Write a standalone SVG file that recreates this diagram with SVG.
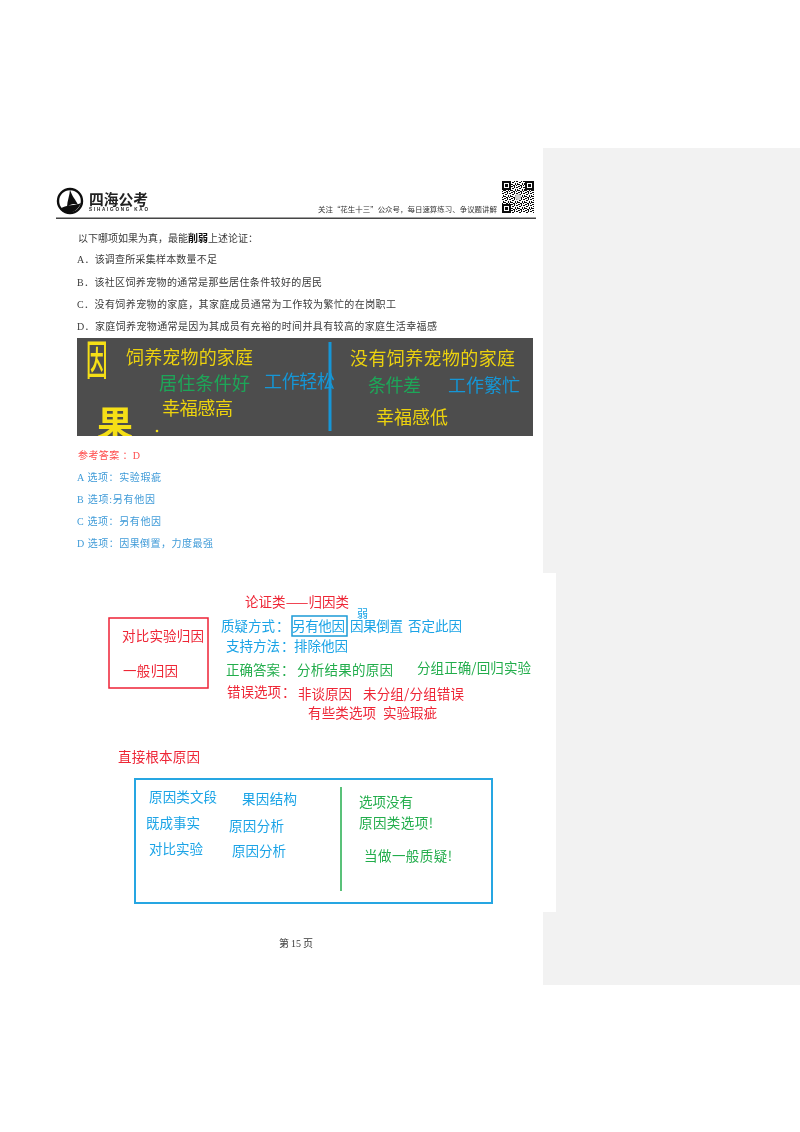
<svg xmlns="http://www.w3.org/2000/svg" width="800" height="1132" viewBox="0 0 800 1132">
<style>
text{font-family:"Noto Sans CJK SC","Liberation Sans",sans-serif}
.doc text{font-family:"Liberation Serif","Noto Sans CJK SC",serif;font-size:10px;fill:#3a3a3a}
.doc text.a{fill:#ff4d4d}
.doc text.b{fill:#3f9bd8}
.hw text{font-size:13.500px}
.hw text.s{font-size:11px}
.y{fill:#ecd20f;font-size:18px}
.g{fill:#1fa659;font-size:18px}
.c{fill:#1596d6;font-size:18px}
.r{fill:#ee2536}
.u{fill:#1aa3e6}
.n{fill:#22ad4c}
</style>
<defs>
<filter id="soft" x="-5%" y="-5%" width="110%" height="110%"><feGaussianBlur stdDeviation="0.3"/></filter>
<filter id="qrsoft" x="-5%" y="-5%" width="110%" height="110%"><feGaussianBlur stdDeviation="0.5"/></filter>
<clipPath id="photo"><rect x="77" y="338" width="456" height="98"/></clipPath>
<pattern id="qr" width="7" height="6" patternUnits="userSpaceOnUse"><path d="M0 0h2v1H0zM3 0h1v2H3zM5 1h2v1H5zM1 2h2v1H1zM4 3h1v2H4zM0 4h2v1H0zM6 3h1v2H6zM2 5h2v1H2zM5 5h1v1H5z" fill="#111"/></pattern>
</defs>
<rect width="800" height="1132" fill="#fff"/>
<rect x="543" y="148" width="257" height="837" fill="#f2f2f2"/>
<rect x="77" y="573" width="479" height="339" fill="#fff"/>

<g id="header" filter="url(#soft)">
<g id="logo">
<circle cx="70" cy="201" r="12" fill="#fff" stroke="#111" stroke-width="2.400"/>
<path d="M70 189C71 195 76 200 78 205C74 203 71 204 67 207C67 201 70 195 70 189Z" fill="#111"/>
<path d="M60 209C66 204 75 206 81 203C78 210 72 214 66 213C64 212 62 211 60 209Z" fill="#111"/>
</g>
<text x="89" y="205" font-size="15" font-weight="700" fill="#222" textLength="59" lengthAdjust="spacingAndGlyphs">四海公考</text>
<text x="89" y="211" font-size="4.600" font-weight="700" fill="#222" textLength="59" style="font-family:'Liberation Sans',sans-serif">SIHAIGONG KAO</text>
<text x="318" y="212" font-size="7.400" fill="#333" textLength="179" lengthAdjust="spacingAndGlyphs">关注“花生十三”公众号，每日速算练习、争议题讲解</text>
<g id="qrcode" filter="url(#qrsoft)">
<rect x="502" y="181" width="32" height="32" fill="url(#qr)"/>
<path d="M502 181h9v9h-9zM525 181h9v9h-9zM502 204h9v9h-9z" fill="#111"/>
<path d="M504 183h5v5h-5zM527 183h5v5h-5zM504 206h5v5h-5z" fill="#fff"/>
<path d="M505 184h3v3h-3zM528 184h3v3h-3zM505 207h3v3h-3z" fill="#111"/>
<circle cx="518" cy="197" r="3" fill="#ccc"/>
</g>
<rect x="56" y="217.500" width="480" height="1.500" fill="#444"/>
</g>

<g id="question" class="doc" filter="url(#soft)">
<text x="78" y="242" textLength="180">以下哪项如果为真，最能<tspan font-weight="700" fill="#111">削弱</tspan>上述论证：</text>
<text x="77" y="263" textLength="140">A．该调查所采集样本数量不足</text>
<text x="77" y="286" textLength="245">B．该社区饲养宠物的通常是那些居住条件较好的居民</text>
<text x="77" y="308" textLength="319">C．没有饲养宠物的家庭，其家庭成员通常为工作较为繁忙的在岗职工</text>
<text x="77" y="330" textLength="360">D．家庭饲养宠物通常是因为其成员有充裕的时间并具有较高的家庭生活幸福感</text>
</g>

<g id="photo-board" filter="url(#soft)">
<rect x="77" y="338" width="456" height="98" fill="#4d4d4d"/>
<g clip-path="url(#photo)">
<text transform="translate(86 375) scale(0.6 1.15)" font-size="36" fill="#f5df19" font-weight="500">因</text>
<text x="97" y="437" font-size="36" fill="#f5df19" font-weight="700">果</text>
</g>
<circle cx="157" cy="431" r="1.300" fill="#f5df19"/>
<text class="y" x="126" y="364" textLength="127">饲养宠物的家庭</text>
<text class="g" x="159" y="390" textLength="91">居住条件好</text>
<text class="c" x="264" y="388" textLength="71">工作轻松</text>
<text class="y" x="162" y="415" textLength="71">幸福感高</text>
<line x1="330" y1="342" x2="330" y2="431" stroke="#1596d6" stroke-width="3"/>
<text class="y" x="350" y="365" textLength="165">没有饲养宠物的家庭</text>
<text class="g" x="368" y="392" textLength="53">条件差</text>
<text class="c" x="448" y="392" textLength="72">工作繁忙</text>
<text class="y" x="376" y="424" textLength="72">幸福感低</text>
</g>

<g id="answer" class="doc" filter="url(#soft)">
<text class="a" x="78" y="459" textLength="62">参考答案 ：D</text>
<text class="b" x="77" y="481" textLength="84">A 选项：实验瑕疵</text>
<text class="b" x="77" y="503" textLength="78">B 选项:另有他因</text>
<text class="b" x="77" y="525" textLength="84">C 选项：另有他因</text>
<text class="b" x="77" y="547" textLength="136">D 选项：因果倒置，力度最强</text>
</g>

<g id="notes-top" class="hw" filter="url(#soft)">
<text class="r" x="245" y="607" textLength="104">论证类——归因类</text>
<text class="u s" x="357" y="618">弱</text>
<text class="u" y="631"><tspan x="221">质疑方式</tspan><tspan x="276">：</tspan></text>
<rect x="292" y="616" width="55" height="20" fill="none" stroke="#1c9bd6" stroke-width="1.500"/>
<text class="u" x="292" y="631" textLength="53">另有他因</text>
<text class="u" x="350" y="631" textLength="53">因果倒置</text>
<text class="u" x="408" y="631" textLength="54">否定此因</text>
<text class="u" y="651"><tspan x="226">支持方法</tspan><tspan x="281">：</tspan><tspan x="294">排除他因</tspan></text>
<text class="n" y="675"><tspan x="226">正确答案</tspan><tspan x="281">：</tspan></text>
<text class="n" x="297" y="675" textLength="96">分析结果的原因</text>
<text class="n" x="417" y="673" textLength="114">分组正确/回归实验</text>
<text class="r" y="697"><tspan x="227">错误选项</tspan><tspan x="282">：</tspan></text>
<text class="r" x="298" y="699" textLength="54">非谈原因</text>
<text class="r" x="363" y="699" textLength="101">未分组/分组错误</text>
<text class="r" x="308" y="718" textLength="68">有些类选项</text>
<text class="r" x="383" y="718" textLength="54">实验瑕疵</text>
<rect x="109" y="618" width="99" height="70" fill="none" stroke="#ee2536" stroke-width="1.500"/>
<text class="r" x="122" y="641" textLength="82">对比实验归因</text>
<text class="r" x="123" y="676" textLength="55">一般归因</text>
</g>

<g id="notes-bottom" class="hw" filter="url(#soft)">
<text class="r" x="118" y="762" textLength="82">直接根本原因</text>
<rect x="135" y="779" width="357" height="124" fill="none" stroke="#27a6e2" stroke-width="2"/>
<text class="u" x="149" y="802" textLength="68">原因类文段</text>
<text class="u" x="242" y="804" textLength="55">果因结构</text>
<text class="u" x="146" y="828" textLength="54">既成事实</text>
<text class="u" x="229" y="831" textLength="55">原因分析</text>
<text class="u" x="149" y="854" textLength="54">对比实验</text>
<text class="u" x="232" y="856" textLength="54">原因分析</text>
<line x1="341" y1="787" x2="341" y2="891" stroke="#22ad4c" stroke-width="1.500"/>
<text class="n" x="359" y="807" textLength="54">选项没有</text>
<text class="n" x="359" y="828" textLength="74">原因类选项!</text>
<text class="n" x="364" y="861" textLength="88">当做一般质疑!</text>
</g>

<g id="footer" class="doc" filter="url(#soft)">
<text x="279" y="947" textLength="34">第&#160;15&#160;页</text>
</g>
</svg>
